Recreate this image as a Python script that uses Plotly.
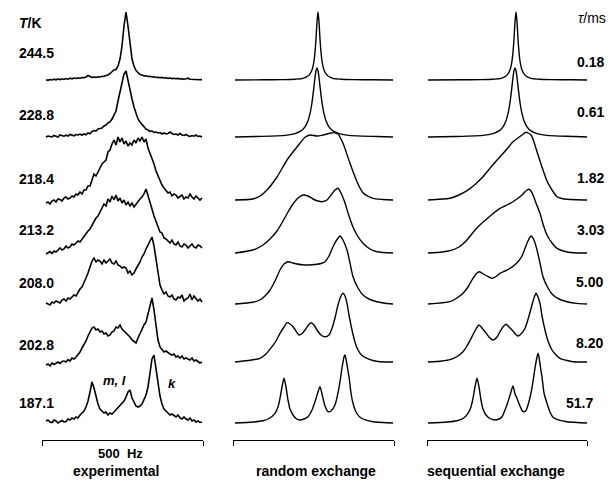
import plotly.graph_objects as go

# ---------------- data (intensity in arbitrary units vs frequency in Hz) ----------------
TEMPS_K = ["244.5", "228.8", "218.4", "213.2", "208.0", "202.8", "187.1"]
TAU_MS = ["0.18", "0.61", "1.82", "3.03", "5.00", "8.20", "51.7"]
COLUMN_TITLES = ["experimental", "random exchange", "sequential exchange"]
SCALE_LABEL = "500  Hz"

# experimental spectra: sampled every 10 Hz starting at 20 Hz
EXP_START_HZ = 20
EXP_STEP_HZ = 10
EXP_2445 = [0.3, -0.3, 0.5, 0, 0.8, 0.2, 1, 0.4, 1.2, 0.6,
            1.5, 0.8, 1.8, 1.2, 2, 1.5, 2.2, 1.8, 2.5, 2.2,
            3, 4.5, 3.5, 2.5, 3, 2.5, 3.2, 3, 3.8, 3.5,
            4.6, 5, 6.5, 8, 10, 10.5, 14, 21, 34, 54,
            68, 54, 34, 21, 14, 9.5, 7.5, 5.5, 5, 4,
            4.2, 3.5, 3.8, 3, 3.2, 2.5, 2.8, 2.2, 2.6, 2,
            2.3, 1.6, 2, 1.4, 1.8, 1.2, 1.6, 1, 1.3, 0.8,
            1.2, 1.8, 0.8, 0.6, 1, 0.3, 0.6, 0.2, 0.4]
EXP_2288 = [0, 1, 0.5, 0, 1.5, 1, 0, 2, 1.2, 0.8,
            1.8, 1, 2.5, 1.5, 1.2, 2.5, 2, 2.8, 2, 3,
            2.2, 4, 3.2, 5.5, 6.5, 6, 8, 8.5, 9, 11,
            12, 14, 15, 18, 22, 26, 36, 45, 54, 63,
            66, 56, 46, 38, 30, 23, 18, 15, 12.5, 11,
            8, 7, 5.5, 6, 4.5, 5, 4, 4.5, 3, 4,
            3, 3.5, 5, 3.5, 2.5, 3, 2, 3.5, 2, 1.5,
            2.5, 1.2, 0.5, 1.5, 0.8, 2, 0.5, 1, 0]
EXP_2184 = [-3, -2, -4, -1, 0, -2, 1, 0.5, -1, 2,
            3, 1, 2, 4, 3, 6, 5, 8, 6, 10,
            10, 14, 14, 20, 26, 24, 28, 32, 36, 38,
            40, 48, 50, 56, 60, 55, 63, 58, 62, 56,
            59, 54, 57, 55, 60, 57, 62, 59, 63, 58,
            61, 52, 47, 41, 36, 29, 24, 19, 15, 12,
            10, 7, 8, 4, 6, 5, 2, 4, 5, 1,
            3, 2, 6, 3, 1, 4, 2, 0, 2]
EXP_2132 = [-1, 0, 1.5, -0.5, 2, 1, 3, 5, 3, 4,
            7, 5, 6, 9, 8, 10, 12, 11, 14, 17,
            19, 22, 24, 28, 31, 35, 37, 41, 44, 49,
            47, 54, 51, 57, 53, 58, 52, 55, 50, 53,
            48, 51, 47, 50, 46, 49, 51, 54, 56, 59,
            64, 58, 50, 44, 37, 31, 26, 21, 20, 15,
            14, 12, 10, 13, 9, 8, 11, 7, 6, 9,
            8, 5, 7, 9, 6, 5, 8, 7, 5]
EXP_2080 = [1, 0, -1, 2, 1, 3, 2, 1, 4, 5,
            3, 6, 5, 7, 9, 8, 12, 15, 17, 21,
            26, 31, 37, 43, 46, 42, 44, 43, 40, 44,
            41, 43, 45, 41, 40, 43, 39, 38, 36, 37,
            36, 31, 33, 29, 31, 35, 38, 42, 47, 50,
            55, 59, 63, 67, 58, 44, 30, 19, 14, 10,
            12, 8, 7, 9, 5, 4, 7, 6, 9, 3,
            5, 6, 10, 4, 8, 6, 3, 5, 2]
EXP_2028 = [-3, -2, -4, -1, -2.5, -1, 0, -1.5, 0.5, 1,
            0, 2.5, 1, 4, 3, 5, 7, 10, 14, 17,
            21, 26, 30, 34, 35, 32, 33, 30, 31, 28,
            29, 26, 27, 30, 31, 35, 34, 37, 33, 31,
            29, 28, 25, 22, 20, 19, 24, 29, 33, 37,
            40, 48, 58, 64, 52, 36, 22, 15, 13, 10,
            11, 9, 8, 7, 8, 5, 6, 4, 6, 3,
            4, 3, 2, 4, 1, 2, 0, -1, 0]
EXP_1871 = [2, 3, 1, 0.5, 3, 2, 0, 1, 2.5, 1,
            1.5, 4, 3, 5, 4, 6, 5, 8, 10, 12,
            16, 22, 31, 41, 35, 26, 19, 14, 12, 10,
            11, 8, 10, 9, 11, 13, 15, 17, 19, 22,
            26, 31, 33, 25, 21, 17, 16, 17, 19, 23,
            28, 36, 48, 64, 68, 55, 38, 27, 19, 14,
            12, 10, 8, 9, 7, 6, 8, 5, 4, 6,
            4, 3, 5, 2, 3, 1, 2, 0.5, 1]

# random exchange simulations
RND_2445_HZ = [10, 150, 250, 310, 350, 375, 385, 395, 400, 405, 410, 415, 420, 425, 430, 435, 440, 445, 450, 455, 465, 475, 500, 540, 600, 700, 800]
RND_2445_I = [0, 0.2, 0.4, 0.8, 1.6, 4, 6.2, 10, 13.6, 19, 28, 41, 58, 68, 58, 41, 28, 19, 13.6, 10, 6.2, 4, 1.6, 0.8, 0.4, 0.2, 0]
RND_2288_HZ = [10, 120, 220, 270, 310, 340, 360, 375, 385, 395, 402.5, 410, 415, 420, 425, 430, 437.5, 445, 455, 465, 480, 500, 530, 570, 620, 720, 800]
RND_2288_I = [0, 0.5, 1.1, 1.9, 3.4, 6.1, 10.2, 16.3, 23.3, 34.5, 46.3, 59.5, 66.3, 69, 66.3, 59.5, 46.3, 34.5, 23.3, 16.3, 10.2, 6.1, 3.4, 1.9, 1.1, 0.5, 0]
RND_2184_HZ = [10, 100, 135, 170, 220, 270, 320, 360, 385, 420, 450, 485, 510, 525, 550, 585, 620, 650, 700, 750, 800]
RND_2184_I = [0, 1, 4, 10, 23, 40, 53, 62.7, 65, 64, 65, 66.7, 67.3, 66, 56.7, 36.7, 18.3, 7.3, 1.7, 0.5, 0]
RND_2132_HZ = [10, 100, 150, 185, 220, 250, 275, 300, 325, 350, 375, 400, 425, 445, 470, 490, 510, 525, 540, 560, 580, 600, 620, 650, 685, 720, 800]
RND_2132_I = [0, 3, 8, 14, 22, 32, 41, 49, 55, 58, 57, 54, 52, 51.3, 53, 58, 63, 64.7, 60, 50, 37, 26, 18, 9.7, 4, 1.3, 0]
RND_2080_HZ = [10, 100, 135, 160, 185, 210, 235, 255, 275, 300, 320, 345, 370, 395, 420, 440, 460, 480, 500, 520, 535, 550, 570, 585, 600, 625, 650, 685, 720, 760, 800]
RND_2080_I = [0, 1.8, 4, 8, 14, 23, 34, 40, 42.3, 41, 40, 39.3, 39, 39.2, 39.7, 40.5, 42.3, 48, 57.3, 64.5, 68, 64, 54, 41, 27.3, 16, 9, 4.5, 2.3, 0.8, 0]
RND_2028_HZ = [10, 75, 135, 165, 195, 215, 235, 255, 270, 285, 300, 315, 330, 345, 360, 375, 390, 405, 420, 440, 460, 480, 495, 510, 525, 540, 550, 560, 570, 580, 595, 610, 625, 645, 670, 700, 735, 800]
RND_2028_I = [0, 1.5, 3.7, 8, 15.3, 21, 28.7, 35, 39.3, 38, 35.3, 31, 27, 28.5, 32, 36.5, 39.3, 37, 32, 27, 25.3, 27, 33.7, 44, 57, 66, 68.7, 66, 58.7, 47, 32, 20, 12, 6.5, 3.7, 1.5, 0.3, 0]
RND_1871_HZ = [10, 100, 150, 180, 210, 225, 235, 245, 255, 265, 275, 285, 300, 315, 335, 355, 375, 395, 410, 425, 435, 445, 450, 460, 475, 490, 510, 525, 535, 545, 555, 560, 565, 575, 580, 590, 600, 615, 635, 665, 700, 750, 800]
RND_1871_I = [0, 1, 2.3, 4.5, 9.7, 16, 24.7, 36, 44.7, 36, 23, 14, 8, 4.5, 3, 4, 6.3, 13, 21.3, 31, 36.3, 29, 24.7, 17, 11.3, 12, 18, 30, 41.3, 55, 66, 68, 64, 52, 46.3, 30, 19.7, 11, 5.7, 2.8, 1.3, 0.5, 0]

# sequential exchange simulations
SEQ_2445_HZ = [5, 170, 270, 330, 370, 395, 405, 415, 420, 425, 430, 435, 440, 445, 450, 455, 460, 465, 470, 475, 485, 495, 520, 560, 620, 720, 800]
SEQ_2445_I = [0, 0.2, 0.4, 0.8, 1.6, 4, 6.2, 10, 13.6, 19, 28, 41, 58, 68, 58, 41, 28, 19, 13.6, 10, 6.2, 4, 1.6, 0.8, 0.4, 0.2, 0]
SEQ_2288_HZ = [5, 140, 240, 290, 330, 360, 380, 395, 405, 415, 422.5, 430, 435, 440, 445, 450, 457.5, 465, 475, 485, 500, 520, 550, 590, 640, 740, 800]
SEQ_2288_I = [0, 0.5, 1.1, 1.9, 3.4, 6.1, 10.2, 16.3, 23.3, 34.5, 46.3, 59.5, 66.3, 69, 66.3, 59.5, 46.3, 34.5, 23.3, 16.3, 10.2, 6.1, 3.4, 1.9, 1.1, 0.5, 0]
SEQ_2184_HZ = [5, 115, 160, 200, 240, 280, 320, 365, 400, 430, 455, 475, 495, 520, 535, 550, 565, 580, 600, 615, 635, 650, 675, 700, 750, 800]
SEQ_2184_I = [0, 1.7, 5, 9.3, 15.5, 23.3, 33, 43.3, 51, 58.3, 62, 65, 67.7, 65, 58, 48.3, 39, 30, 19, 13.3, 7, 3.3, 1.5, 0.7, 0.2, 0]
SEQ_2132_HZ = [5, 75, 115, 160, 200, 220, 240, 275, 310, 340, 365, 390, 415, 435, 455, 475, 490, 500, 510, 520, 530, 545, 565, 580, 600, 625, 650, 690, 730, 800]
SEQ_2132_I = [0, 1, 2.3, 6, 13, 18, 23, 30, 36, 41, 44.7, 47, 49.7, 52, 54.7, 58, 61.3, 63, 63.7, 62, 58, 50, 39.7, 29, 18, 10, 4.7, 1.5, 0.3, 0]
SEQ_2080_HZ = [5, 115, 150, 180, 205, 225, 245, 260, 275, 290, 310, 325, 345, 365, 390, 415, 435, 455, 475, 490, 505, 520, 535, 550, 565, 580, 605, 630, 665, 700, 750, 800]
SEQ_2080_I = [0, 2.3, 6, 10.7, 17, 24, 30, 32.3, 31, 29, 27, 25.7, 27.5, 30.7, 33, 35.7, 38.5, 42.3, 48, 55.7, 63, 68, 64, 54, 41, 27.3, 16, 9, 4.5, 2.3, 0.6, 0]
SEQ_2028_HZ = [5, 75, 115, 150, 180, 200, 225, 245, 260, 275, 290, 310, 330, 350, 365, 380, 395, 410, 425, 440, 455, 470, 490, 510, 525, 535, 545, 555, 565, 575, 590, 605, 625, 645, 665, 700, 730, 800]
SEQ_2028_I = [0, 1, 2.3, 5.5, 10.3, 16, 25.3, 33, 37, 34, 30.3, 25, 22, 25, 30.3, 35, 37.7, 35, 32, 28.5, 26, 28, 33.7, 46, 57, 64, 68.7, 65, 58.7, 46, 32, 21, 12, 7, 3.7, 1.5, 0.3, 0]
SEQ_1871_HZ = [5, 100, 150, 180, 205, 220, 230, 240, 250, 260, 270, 280, 295, 315, 340, 360, 375, 390, 405, 420, 430, 440, 450, 465, 480, 495, 505, 520, 530, 540, 550, 555, 560, 570, 575, 585, 600, 615, 630, 660, 700, 750, 800]
SEQ_1871_I = [0, 1, 2.3, 4.5, 9.7, 16, 24.7, 36, 44.7, 36, 23, 14, 8, 4.5, 3, 4, 6.3, 13, 21.3, 31, 37, 29, 24.7, 17, 11.3, 12.5, 18, 30, 41.3, 55, 66, 69.7, 66, 52, 46.3, 30, 19.7, 11, 5.7, 2.8, 1.3, 0.5, 0]

# ---------------- layout settings ----------------
W, H = 608, 480
ROW_BASELINE_PX = [80, 137, 200, 253, 304, 362, 423]       # vertical stacking positions
STACK_OFFSETS = [H - b for b in ROW_BASELINE_PX]
COL_PX = [(42, 203), (233, 394), (427, 587)]
COL_RANGE = [(0, 805), (0, 805), (0, 800)]
BRACKET_Y_PX = 440
FONT = "Liberation Sans, Arial, Helvetica, sans-serif"

exp_series = [EXP_2445, EXP_2288, EXP_2184, EXP_2132, EXP_2080, EXP_2028, EXP_1871]
rnd_series = [(RND_2445_HZ, RND_2445_I), (RND_2288_HZ, RND_2288_I), (RND_2184_HZ, RND_2184_I),
              (RND_2132_HZ, RND_2132_I), (RND_2080_HZ, RND_2080_I), (RND_2028_HZ, RND_2028_I),
              (RND_1871_HZ, RND_1871_I)]
seq_series = [(SEQ_2445_HZ, SEQ_2445_I), (SEQ_2288_HZ, SEQ_2288_I), (SEQ_2184_HZ, SEQ_2184_I),
              (SEQ_2132_HZ, SEQ_2132_I), (SEQ_2080_HZ, SEQ_2080_I), (SEQ_2028_HZ, SEQ_2028_I),
              (SEQ_1871_HZ, SEQ_1871_I)]

fig = go.Figure()

for r, ys in enumerate(exp_series):
    xs = [EXP_START_HZ + EXP_STEP_HZ * i for i in range(len(ys))]
    fig.add_trace(go.Scatter(x=xs, y=[v + STACK_OFFSETS[r] for v in ys], xaxis="x", yaxis="y",
                             mode="lines", line=dict(color="black", width=1.6),
                             hoverinfo="skip", showlegend=False))

for axis, series in (("x2", rnd_series), ("x3", seq_series)):
    for r, (xs, ys) in enumerate(series):
        fig.add_trace(go.Scatter(x=xs, y=[v + STACK_OFFSETS[r] for v in ys], xaxis=axis, yaxis="y",
                                 mode="lines", line=dict(color="black", width=1.4, shape="spline", smoothing=0.7),
                                 hoverinfo="skip", showlegend=False))

def xaxis_cfg(i):
    x0, x1 = COL_PX[i]
    lo, hi = COL_RANGE[i]
    return dict(domain=[x0 / W, x1 / W], range=[lo, hi], anchor="free",
                position=(H - BRACKET_Y_PX) / H, showline=True, linecolor="black", linewidth=1,
                ticks="outside", tickvals=[lo, hi], ticklen=5, tickwidth=1, tickcolor="black",
                showticklabels=False, showgrid=False, zeroline=False, fixedrange=True)

annotations = []
def txt(text, xpx, ypx, size=14, anchor="left"):
    annotations.append(dict(text=text, x=xpx / W, y=1 - ypx / H, xref="paper", yref="paper",
                            xanchor=anchor, yanchor="middle", showarrow=False,
                            font=dict(family=FONT, size=size, color="black")))

txt("<b><i>T</i>/K</b>", 17, 23)
LEFT_Y = [53, 115, 179, 230, 283, 345, 403]
for t, y in zip(TEMPS_K, LEFT_Y):
    txt("<b>" + t + "</b>", 17, y)

txt("<i>τ</i>/ms", 576, 18)
RIGHT_Y = [62, 112, 178, 230, 282, 343, 403]
RIGHT_X = [575, 575, 575, 575, 574, 574, 564]
for t, x, y in zip(TAU_MS, RIGHT_X, RIGHT_Y):
    txt("<b>" + t + "</b>", x, y)

txt("<b><i>m, l</i></b>", 114, 380, size=13, anchor="center")
txt("<b><i>k</i></b>", 172, 383, size=13, anchor="center")
txt("<b>" + SCALE_LABEL + "</b>", 120, 453, size=13, anchor="center")
TITLE_X = [116, 316, 496]
for t, x in zip(COLUMN_TITLES, TITLE_X):
    txt("<b>" + t + "</b>", x, 471, size=14, anchor="center")

fig.update_layout(
    width=W, height=H, margin=dict(l=0, r=0, t=0, b=0),
    paper_bgcolor="white", plot_bgcolor="rgba(0,0,0,0)",
    xaxis=xaxis_cfg(0), xaxis2=xaxis_cfg(1), xaxis3=xaxis_cfg(2),
    yaxis=dict(domain=[0, 1], range=[0, H], visible=False, fixedrange=True, anchor="x"),
    annotations=annotations, showlegend=False,
)

fig.write_html("out.html", config={"displayModeBar": False},
               post_script="document.body.style.margin='0px';document.body.style.overflow='hidden';")
